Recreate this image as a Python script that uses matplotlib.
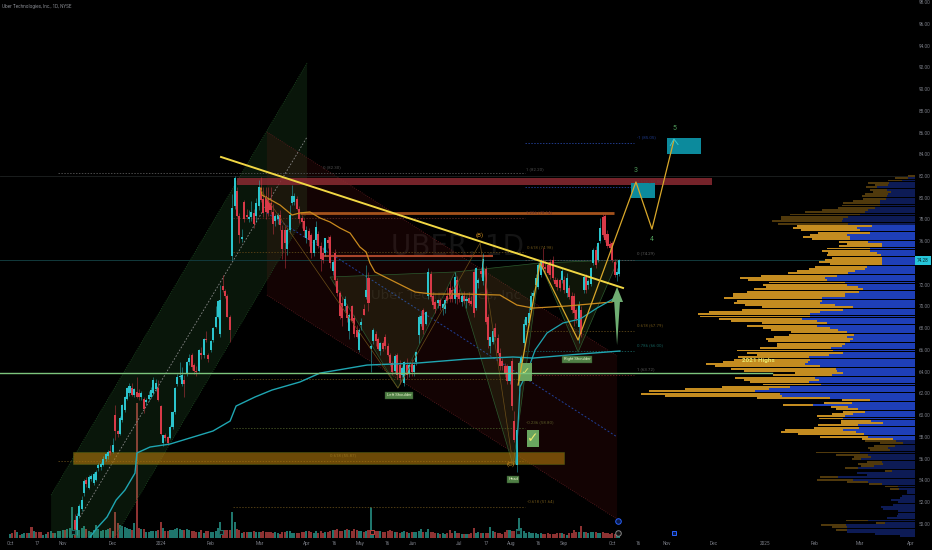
"""Uber daily chart, dark TradingView look, with drawings and volume profile."""

import matplotlib
matplotlib.use("Agg")
import matplotlib.pyplot as plt
import numpy as np
from matplotlib.patches import Polygon, Rectangle

# ── Candles (first candle is bar 27, earlier ones sit below the visible range) ──
FIRST_BAR = 27
OPEN = [
    50.4, 49.4, 50.7, 51.4, 52.8, 54.0, 53.3, 54.1, 53.8, 54.0,
    55.1, 55.2, 55.4, 56.0, 56.2, 56.7, 56.6, 60.0, 58.5, 58.3,
    59.6, 60.5, 61.5, 62.0, 62.5, 61.9, 62.1, 62.0, 61.7, 61.5,
    61.2, 61.5, 61.7, 62.0, 62.4, 62.5, 60.8, 57.4, 58.2, 58.0,
    57.9, 58.9, 60.3, 62.9, 63.5, 62.9, 63.2, 63.8, 64.9, 65.5,
    64.6, 64.1, 64.1, 65.7, 65.5, 67.0, 65.5, 66.0, 66.9, 68.1,
    69.0, 67.5, 71.9, 71.4, 71.0, 69.0, 74.6, 79.2, 80.6, 78.3,
    76.2, 79.6, 78.4, 78.0, 78.2, 78.6, 78.3, 79.2, 80.9, 79.9,
    80.2, 79.9, 79.5, 78.7, 77.9, 78.0, 78.4, 77.0, 77.0, 75.3,
    77.0, 79.5, 79.6, 79.9, 79.0, 78.1, 77.9, 76.3, 76.9, 76.6,
    74.9, 76.1, 76.7, 75.6, 74.9, 74.9, 76.1, 76.4, 73.3, 74.9,
    72.3, 71.2, 70.3, 70.0, 70.0, 67.7, 70.0, 68.9, 67.8, 66.0,
    68.3, 69.8, 70.9, 72.6, 66.1, 66.8, 67.5, 67.0, 65.9, 66.6,
    67.2, 66.4, 65.5, 64.8, 64.1, 65.5, 64.6, 63.7, 63.0, 64.6,
    63.9, 64.8, 64.0, 64.9, 67.4, 68.4, 69.7, 68.4, 71.0, 73.0,
    71.0, 70.4, 70.3, 70.6, 69.9, 69.8, 71.0, 71.7, 71.5, 70.7,
    72.4, 71.2, 70.4, 71.0, 70.5, 70.8, 70.5, 73.2, 69.9, 72.2,
    73.3, 72.3, 73.4, 69.0, 66.4, 66.7, 68.0, 67.1, 65.7, 65.0,
    64.5, 64.5, 63.1, 65.0, 59.5, 55.4, 63.1, 64.5, 66.6, 68.3,
    68.5, 69.7, 71.0, 72.0, 71.8, 72.9, 74.1, 73.6, 73.8, 74.1,
    74.3, 72.4, 72.4, 72.4, 72.4, 72.4, 71.2, 71.7, 71.0, 71.0,
    69.7, 68.1, 69.7, 71.5, 72.7, 72.0, 72.1, 74.0, 75.2, 74.3,
    76.0, 78.2, 78.3, 76.7, 75.7, 75.8, 74.1, 72.9, 73.0,
]
HIGH = [
    50.9, 51.0, 51.8, 52.6, 54.1, 54.3, 54.5, 54.6, 54.8, 55.0,
    55.6, 55.7, 56.2, 56.5, 56.8, 57.3, 57.9, 60.9, 58.6, 59.9,
    61.0, 61.8, 62.6, 63.0, 63.0, 62.5, 63.5, 62.4, 62.2, 61.7,
    61.6, 62.2, 62.6, 63.5, 63.3, 63.2, 60.9, 58.2, 58.4, 58.1,
    59.1, 60.4, 62.6, 63.8, 64.9, 64.4, 63.7, 65.0, 65.6, 65.7,
    64.8, 64.5, 66.1, 66.3, 67.1, 67.7, 65.7, 66.9, 68.1, 70.0,
    70.6, 72.0, 72.9, 71.6, 71.1, 69.2, 80.3, 82.0, 81.0, 78.6,
    77.1, 79.8, 79.0, 78.9, 79.7, 79.0, 80.0, 81.6, 81.9, 81.0,
    81.0, 81.0, 81.0, 79.4, 78.5, 78.6, 78.9, 77.5, 77.4, 77.2,
    79.3, 81.2, 80.4, 80.2, 79.2, 78.4, 78.1, 77.4, 77.2, 76.8,
    76.2, 77.9, 76.9, 75.9, 75.5, 76.3, 76.5, 76.6, 74.3, 75.3,
    72.6, 71.4, 70.9, 71.0, 70.2, 69.4, 70.1, 69.2, 68.3, 68.0,
    68.9, 70.2, 73.8, 73.2, 66.5, 68.0, 67.7, 67.2, 66.7, 66.8,
    67.5, 66.6, 65.7, 65.0, 65.6, 65.7, 65.1, 64.5, 65.0, 65.3,
    64.7, 65.2, 64.8, 65.9, 69.2, 69.5, 69.9, 69.6, 73.5, 73.3,
    71.3, 70.6, 70.7, 70.8, 70.3, 70.8, 71.8, 72.3, 71.9, 73.2,
    72.8, 71.6, 71.2, 71.4, 71.0, 71.3, 71.0, 73.4, 73.6, 72.6,
    73.6, 74.9, 73.7, 69.3, 67.2, 68.0, 68.5, 67.5, 66.2, 65.3,
    64.8, 64.7, 64.5, 65.3, 60.4, 58.6, 65.0, 65.5, 68.8, 69.0,
    70.0, 71.3, 71.5, 73.0, 74.0, 74.4, 75.4, 74.3, 74.1, 74.4,
    74.6, 72.7, 72.6, 72.6, 73.5, 72.8, 73.1, 72.0, 71.3, 71.2,
    69.9, 70.5, 70.0, 72.9, 73.0, 72.5, 73.6, 75.4, 75.6, 75.9,
    78.1, 78.5, 78.5, 77.0, 76.0, 76.0, 74.4, 73.5, 74.4,
]
LOW = [
    49.4, 49.0, 50.5, 51.2, 52.6, 53.4, 53.2, 53.9, 53.6, 53.9,
    54.9, 55.0, 55.3, 55.8, 56.0, 56.3, 56.5, 57.7, 58.0, 58.2,
    59.4, 60.3, 61.4, 61.8, 61.8, 61.7, 61.6, 61.4, 61.4, 60.2,
    60.9, 61.3, 61.6, 61.9, 62.2, 61.3, 58.2, 57.2, 57.6, 57.3,
    57.8, 58.7, 60.1, 62.7, 63.3, 62.7, 61.7, 63.6, 64.6, 64.2,
    63.8, 63.6, 64.0, 65.2, 65.3, 66.7, 64.9, 65.8, 66.7, 68.0,
    68.9, 67.2, 71.3, 70.8, 69.0, 66.7, 74.3, 79.0, 78.2, 75.8,
    75.9, 77.8, 78.0, 77.8, 77.9, 77.2, 77.8, 78.9, 79.6, 78.2,
    78.0, 78.3, 78.5, 76.7, 77.4, 77.6, 77.0, 74.4, 73.5, 74.7,
    76.8, 79.3, 79.3, 78.9, 77.7, 77.2, 76.4, 75.8, 75.6, 74.5,
    74.6, 75.8, 75.4, 73.3, 74.0, 74.6, 75.4, 73.5, 72.9, 72.0,
    71.0, 68.8, 68.2, 69.6, 68.6, 67.0, 68.6, 67.2, 67.1, 65.8,
    67.8, 69.2, 70.7, 69.6, 64.0, 66.5, 66.4, 66.0, 65.5, 65.9,
    66.1, 65.4, 64.5, 63.7, 63.9, 63.3, 62.9, 63.5, 62.7, 63.3,
    63.5, 63.6, 63.6, 64.6, 66.6, 68.2, 67.5, 68.3, 70.7, 70.5,
    69.8, 69.4, 69.9, 69.7, 69.2, 69.4, 70.3, 70.4, 70.4, 70.3,
    70.2, 70.4, 70.0, 70.3, 69.9, 70.1, 70.0, 69.0, 69.7, 71.7,
    72.7, 72.0, 68.4, 66.2, 65.7, 66.5, 66.9, 65.5, 64.2, 64.2,
    63.5, 62.9, 62.9, 60.5, 57.5, 54.8, 62.2, 63.9, 66.3, 68.2,
    68.3, 69.5, 70.8, 71.8, 71.6, 72.7, 73.4, 73.2, 73.0, 72.5,
    72.3, 71.9, 71.5, 71.4, 72.2, 71.2, 70.9, 70.7, 69.4, 68.2,
    68.5, 66.6, 67.2, 71.2, 71.2, 71.6, 71.9, 73.8, 73.5, 74.1,
    75.8, 76.4, 75.9, 75.4, 75.2, 74.1, 72.7, 72.3, 72.8,
]
CLOSE = [
    49.5, 50.7, 51.6, 52.2, 53.9, 53.7, 54.3, 54.4, 54.6, 54.8,
    55.4, 55.5, 56.0, 56.4, 56.6, 56.5, 57.3, 58.5, 58.3, 59.7,
    60.9, 61.7, 62.5, 62.7, 61.9, 62.4, 61.7, 61.7, 62.0, 60.6,
    61.4, 61.9, 62.3, 63.2, 63.0, 61.4, 58.3, 58.2, 57.9, 57.4,
    58.9, 60.3, 62.5, 63.5, 63.6, 63.7, 62.9, 64.9, 65.3, 64.4,
    64.1, 64.0, 66.0, 65.5, 67.0, 66.9, 65.2, 66.8, 68.0, 69.0,
    70.5, 70.6, 71.5, 71.0, 69.0, 67.8, 79.1, 81.8, 78.3, 76.6,
    76.4, 78.0, 78.2, 78.2, 78.7, 77.6, 79.5, 81.0, 79.8, 78.6,
    78.7, 78.6, 78.9, 77.6, 78.3, 78.4, 77.5, 75.3, 75.8, 77.0,
    78.4, 80.2, 80.2, 79.0, 78.0, 77.8, 76.9, 77.0, 76.1, 74.9,
    76.1, 77.3, 75.6, 74.4, 74.3, 76.3, 75.8, 74.0, 74.1, 72.4,
    71.2, 69.1, 68.9, 70.7, 68.9, 69.2, 68.7, 67.5, 67.2, 67.8,
    68.6, 69.2, 71.5, 70.3, 66.4, 67.8, 66.8, 66.1, 66.6, 66.1,
    66.4, 65.5, 64.8, 64.0, 65.4, 63.7, 63.4, 64.3, 64.9, 63.7,
    64.6, 64.0, 64.6, 65.8, 69.0, 69.1, 67.8, 69.5, 73.2, 70.9,
    70.1, 69.8, 70.6, 70.0, 70.2, 70.6, 70.5, 70.7, 70.7, 72.7,
    70.9, 70.7, 71.0, 70.5, 70.7, 70.3, 70.2, 69.4, 73.5, 72.4,
    73.0, 74.4, 68.6, 66.9, 67.2, 67.7, 67.2, 65.7, 64.5, 64.5,
    63.8, 63.1, 64.5, 60.8, 57.7, 58.6, 64.5, 65.3, 68.4, 69.0,
    69.4, 71.0, 71.2, 72.6, 73.8, 74.1, 73.6, 73.4, 73.1, 72.9,
    72.6, 72.1, 71.8, 71.7, 73.3, 71.5, 72.6, 70.9, 69.7, 69.4,
    68.8, 70.1, 67.5, 72.7, 71.5, 72.3, 73.5, 75.2, 73.8, 75.8,
    77.2, 76.6, 76.1, 75.6, 75.4, 74.3, 72.9, 73.2, 74.3,
]

# ── Volume, bar 0 onwards ──
VOLUME = [
    4, 5, 8, 6, 3, 4, 5, 5, 5, 11,
    7, 6, 6, 6, 3, 4, 6, 7, 5, 5,
    7, 7, 8, 8, 9, 10, 31, 15, 9, 8,
    10, 12, 9, 7, 6, 8, 13, 9, 7, 8,
    8, 9, 10, 7, 26, 15, 13, 12, 11, 10,
    9, 8, 15, 135, 10, 9, 9, 6, 6, 7,
    7, 7, 8, 16, 10, 7, 7, 8, 8, 9,
    10, 9, 8, 8, 9, 8, 7, 7, 6, 6,
    8, 5, 7, 7, 6, 6, 7, 10, 16, 8,
    8, 8, 8, 26, 16, 9, 8, 5, 6, 6,
    6, 6, 7, 6, 6, 6, 7, 6, 6, 6,
    5, 6, 5, 4, 6, 6, 7, 7, 5, 5,
    5, 5, 6, 6, 7, 7, 6, 5, 7, 5,
    7, 5, 6, 6, 7, 8, 8, 9, 7, 7,
    8, 9, 8, 7, 9, 8, 7, 7, 6, 7,
    8, 31, 8, 7, 7, 7, 6, 6, 7, 8,
    7, 6, 6, 5, 6, 7, 6, 5, 6, 6,
    6, 7, 9, 6, 6, 9, 6, 6, 5, 5,
    4, 5, 4, 5, 8, 5, 7, 5, 5, 4,
    4, 4, 4, 5, 10, 5, 6, 5, 5, 5,
    5, 11, 7, 6, 5, 5, 4, 6, 8, 8,
    7, 7, 9, 20, 10, 7, 5, 6, 5, 5,
    5, 4, 5, 4, 4, 5, 4, 4, 4, 5,
    5, 5, 4, 3, 5, 5, 8, 6, 6, 12,
    6, 6, 5, 6, 6, 6, 5, 5, 6, 5,
    5, 4, 5, 4, 5, 5,
]
# 1 = up day, for the bars before the first visible candle
EARLY_UP = [1, 0, 0, 1, 0, 1, 1, 0, 1, 0, 1, 0, 0, 0, 1, 1, 0, 1, 0, 1, 1, 1, 1, 0, 1, 1, 1]

# ── Volume profile, top row to bottom row: whole row and blue part of it ──
PROFILE_TOP = 82.0
PROFILE_BOTTOM = 48.85
PROFILE_TOTAL = [
    7, 20, 27, 47, 40, 49, 45, 42, 50, 53, 52, 62, 72, 73, 77, 93, 110, 125, 134, 134, 143, 137,
    118, 122, 114, 97, 105, 112, 103, 76, 68, 76, 88, 93, 87, 88, 83, 90, 96, 85, 100, 106, 118,
    127, 154, 175, 167, 146, 152, 149, 161, 168, 182, 182, 191, 178, 181, 170, 153, 173, 206,
    217, 215, 196, 184, 153, 168, 152, 144, 124, 126, 141, 149, 147, 138, 138, 155, 178, 168,
    158, 177, 181, 192, 209, 200, 184, 171, 120, 142, 180, 171, 165, 152, 193, 230, 266, 274,
    250, 158, 73, 91, 132, 84, 79, 72, 83, 98, 96, 74, 74, 97, 101, 130, 134, 117, 95,
    53, 50, 35, 41, 47, 45, 99, 79, 61, 63, 48, 57, 54, 70, 30, 58, 48, 95, 98, 68, 46, 30, 25,
    8, 8, 13, 15, 24, 17, 22, 34, 32, 17, 17, 18, 28, 69, 39, 94, 83, 79, 68, 40, 15,
]
PROFILE_BLUE = [
    0, 7, 13, 26, 27, 38, 28, 24, 27, 28, 29, 35, 35, 35, 40, 47, 50, 55, 67, 72, 73, 67,
    43, 58, 55, 45, 68, 65, 65, 47, 33, 33, 45, 45, 38, 34, 33, 33, 33, 33, 48, 50, 60,
    67, 78, 90, 88, 70, 68, 57, 52, 56, 70, 70, 93, 93, 95, 80, 62, 72, 95,
    105, 105, 113, 98, 88, 98, 85, 77, 68, 61, 68, 62, 65, 70, 73, 84, 82, 72,
    86, 106, 105, 107, 110, 95, 79, 78, 72, 83, 100, 96, 106, 94, 125, 146, 160, 135,
    133, 85, 45, 63, 102, 67, 57, 50, 62, 70, 72, 44, 32, 57, 56, 72, 59, 51, 47,
    22, 19, 12, 20, 27, 25, 55, 47, 44, 54, 33, 32, 41, 57, 23, 58, 48, 77, 62, 47, 33, 17, 16,
    8, 8, 13, 15, 24, 17, 22, 34, 32, 17, 17, 18, 28, 47, 30, 69, 68, 68, 68, 40, 15,
]
VALUE_AREA_HIGH = 77.6
VALUE_AREA_LOW = 57.75

# ── Moving lines, as (bar, price) ──
VWAP_BARS = [105.0, 105.4, 113.0, 118.0, 121.3, 125.5, 129.7, 133.9, 138.1, 142.3, 146.4, 149.0,
             150.6, 152.7, 161.1, 169.5, 176.6, 191.2, 205.0, 212.1, 218.8, 233.1, 251.9]
VWAP_PRICES = [80.9, 80.25, 79.33, 78.41, 78.6, 78.69, 78.14, 77.77, 77.21, 76.75, 75.47, 75.01,
               74.0, 73.17, 72.25, 71.33, 71.14, 71.14, 71.05, 70.13, 69.85, 70.04, 70.41]
LONG_MA_BARS = [33.5, 36.4, 40.6, 44.4, 48.1, 52.3, 53.1, 58.6, 66.9, 75.3, 84.9, 92.1, 94.6,
                102.5, 109.6, 121.3, 129.7, 149.4, 170.3, 191.2, 210.5, 218.8, 238.5, 255.2]
LONG_MA_PRICES = [48.79, 49.62, 50.63, 52.19, 53.11, 54.67, 56.52, 57.07, 57.34, 57.9, 58.54,
                  59.46, 60.84, 61.67, 62.31, 63.05, 63.87, 64.61, 64.79, 65.16, 65.35, 65.25,
                  65.62, 65.9]
ANCHORED_BARS = [211.7, 212.6, 213.4, 216.3, 219.7, 224.7, 231.4, 238.5, 245.6, 252.3]
ANCHORED_PRICES = [55.6, 59.28, 62.59, 63.87, 65.99, 67.56, 68.48, 68.84, 69.85, 70.68]

WAVE_BARS = [212.6, 221.8, 237.7, 261.9, 268.6, 277.8]
WAVE_PRICES = [62.77, 74.0, 66.91, 81.45, 77.12, 85.31]
ABC_BARS = [105.0, 162.3, 196.7, 210.5]
ABC_PRICES = [80.71, 62.49, 75.83, 55.41]

# ── Axis labels ──
PRICE_TICKS = list(range(50, 100, 2))
TIME_TICKS = [0, 11.3, 22.2, 43.1, 63.2, 84.1, 104.6, 124.3, 135.6, 146.4, 157.7, 168.6, 187.9,
              199.2, 209.6, 221, 231.8, 251.9, 262.8, 274.9, 294.6, 315.9, 336.8, 355.6, 377]
TIME_LABELS = ["Oct", "17", "Nov", "Dec", "2024", "Feb", "Mar", "Apr", "16", "May", "16", "Jun",
               "Jul", "17", "Aug", "16", "Sep", "Oct", "16", "Nov", "Dec", "2025", "Feb", "Mar",
               "Apr"]
LAST_PRICE = 74.28

BG = "#000000"
TEAL = "#2bc4cc"
RED = "#d83a48"
TICK_FG = "#7a7d86"
FONT = "Roboto"

fig = plt.figure(figsize=(9.32, 5.5), dpi=100, facecolor=BG)
rect = [0, 12 / 550, 915 / 932, 538 / 550]
XLIM = (-4.18, 378.66)
YLIM = (48.7, 98.19)

# volume sits underneath everything, on its own scale
vol_ax = fig.add_axes(rect, facecolor=BG)
vol_bars = np.arange(len(VOLUME))
vol_up = EARLY_UP + [int(c >= o) for o, c in zip(OPEN, CLOSE)]
vol_ax.bar(vol_bars, VOLUME, width=0.85,
           color=["#1f766d" if u else "#8e3232" for u in vol_up], linewidth=0)
vol_ax.set_xlim(*XLIM)
vol_ax.set_ylim(0, 538)
vol_ax.axis("off")

ax = fig.add_axes(rect)
ax.patch.set_alpha(0)
ax.set_xlim(*XLIM)
ax.set_ylim(*YLIM)
for s in ax.spines.values():
    s.set_visible(False)
ax.yaxis.tick_right()
# the 74 label is hidden by the last price tag
ax.set_yticks(PRICE_TICKS, ["" if p == 74 else f"{p:.2f}" for p in PRICE_TICKS])
ax.set_xticks(TIME_TICKS, TIME_LABELS)
ax.tick_params(axis="both", length=0, labelsize=3.4, labelcolor=TICK_FG, pad=2.5)
for lab in ax.get_xticklabels() + ax.get_yticklabels():
    lab.set_fontfamily(FONT)

# watermark
ax.text(187.4, 75.47, "UBER, 1D", color="#141414", fontsize=20, ha="center", va="center",
        family="Liberation Sans Narrow", zorder=0.5)
ax.text(182.4, 71.05, "Uber Technologies, Inc", color="#141414", fontsize=9.5, ha="center",
        va="center", family="Liberation Sans Narrow", zorder=0.5)

# channels
ax.add_patch(Polygon([(17.2, 52.65), (124.3, 92.4), (124.3, 78.69), (43.9, 48.79), (17.2, 48.79)],
                     facecolor="#4caf50", alpha=0.13, linewidth=0, zorder=1))
ax.plot([17.2, 124.3], [52.65, 92.4], color="#1d4a22", lw=0.6, ls=":", zorder=1.1)
ax.plot([43.9, 124.3], [48.79, 78.69], color="#1d4a22", lw=0.6, ls=":", zorder=1.1)
ax.plot([29.3, 124.3], [50.63, 85.59], color="#8a8a8a", lw=0.6, ls=(0, (2, 2)), zorder=1.1)

ax.add_patch(Polygon([(107.5, 86.05), (254, 65.44), (254, 50.44), (107.5, 71.05)],
                     facecolor="#b22222", alpha=0.11, linewidth=0, zorder=1))
ax.plot([107.5, 254], [86.05, 65.44], color="#5e1c20", lw=0.6, ls=":", zorder=1.1)
ax.plot([107.5, 254], [71.05, 50.44], color="#5e1c20", lw=0.6, ls=":", zorder=1.1)
ax.plot([107.5, 254], [78.6, 58.0], color="#1f3f9a", lw=0.7, ls=(0, (2, 2)), zorder=1.1)

# head and shoulders triangles
for tri in ([(133.9, 72.71), (162.3, 62.49), (186.2, 73.17)],
            [(186.2, 73.17), (210.5, 55.41), (221.8, 74.0)],
            [(221.8, 74.0), (237.7, 65.81), (254.4, 74.27)]):
    ax.add_patch(Polygon(tri, facecolor="#7fae4a", alpha=0.12, linewidth=0, zorder=1.2))
    ax.add_patch(Polygon(tri, fill=False, edgecolor="#2c5a2e", linewidth=0.5, zorder=1.3))

# horizontal levels and fib lines
ax.axhline(82.0, color="#1f2222", lw=0.6, zorder=1.3)
ax.axhline(LAST_PRICE, color="#123a3c", lw=0.7, zorder=1.3)
for price, start, stop, col in [
    (82.27, 20.1, 215.5, "#4a4a4a"), (78.14, 93.3, 215.5, "#4f2420"), (75.0, 93.3, 215.5, "#4f3c14"),
    (63.32, 93.3, 215.5, "#4f3c14"), (58.8, 93.3, 215.5, "#3d4a20"), (55.78, 20.1, 215.5, "#4f3c14"),
    (51.55, 93.3, 215.5, "#4f3c14"), (85.03, 215.5, 261.1, "#1f3a8a"), (80.99, 215.5, 261.1, "#1f3a8a"),
    (74.27, 215.5, 261.1, "#4a4a4a"), (67.74, 215.5, 261.1, "#4f3c14"), (65.9, 215.5, 261.1, "#14504f"),
    (63.69, 215.5, 261.1, "#5e1c20"),
]:
    ax.plot([start, stop], [price, price], color=col, lw=0.7, ls=(0, (1.5, 1.5)), zorder=1.4)

ax.add_patch(Rectangle((95, 81.17), 198.7, 0.64, facecolor="#8a2a32", edgecolor="none", alpha=0.85, zorder=1.5))
ax.add_patch(Rectangle((26.4, 55.5), 205.4, 1.11, facecolor="#b47a0c", edgecolor="#4d5f14", lw=0.6,
                       alpha=0.6, zorder=1.5))
ax.plot([121.3, 252.7], [78.6, 78.6], color="#a4521c", lw=2.0, solid_capstyle="butt", zorder=1.5)
ax.plot([129.7, 202.1], [74.64, 74.64], color="#a8452a", lw=1.5, solid_capstyle="butt", zorder=1.5)

# candles
bars = np.arange(FIRST_BAR, FIRST_BAR + len(OPEN))
opens, highs, lows, closes = map(np.array, (OPEN, HIGH, LOW, CLOSE))
colors = np.where(closes >= opens, TEAL, RED)
ax.vlines(bars, lows, highs, colors=colors, lw=0.55, alpha=0.6, zorder=2)
ax.bar(bars, np.abs(closes - opens), bottom=np.minimum(opens, closes), width=0.85,
       color=colors, linewidth=0, zorder=2.1)

# moving lines
ax.plot(VWAP_BARS, VWAP_PRICES, color="#c98a1e", lw=0.9, zorder=3)
ax.plot(LONG_MA_BARS, LONG_MA_PRICES, color="#1fa6b2", lw=1.0, zorder=3)
ax.plot(ANCHORED_BARS, ANCHORED_PRICES, color="#1fa6b2", lw=0.9, zorder=3)
ax.plot(ABC_BARS, ABC_PRICES, color="#6b4e18", lw=0.5, zorder=3)

# trend line
ax.plot([88.3, 256.5], [83.75, 71.7], color="#f1d744", lw=1.4, zorder=3.3)

# target boxes, projected waves, arrow
ax.add_patch(Rectangle((274.9, 84.02), 14.2, 1.48, facecolor="#0c8a9c", lw=0, zorder=3.4))
ax.add_patch(Rectangle((259.8, 79.97), 10.1, 1.38, facecolor="#0c8a9c", lw=0, zorder=3.4))
ax.plot(WAVE_BARS, WAVE_PRICES, color="#d9a82a", lw=0.9, zorder=3.5)
ax.plot([276.3, 277.8, 279.5], [84.8, 85.4, 84.9], color="#35c9d0", lw=0.7, zorder=3.6)
ax.add_patch(Polygon([(254, 71.79), (256.5, 70.41), (255.2, 70.41), (254, 66.45), (252.8, 70.41), (251.5, 70.41)],
                     facecolor="#6fae73", lw=0, zorder=3.6))

# check marks
ax.add_patch(Rectangle((212.6, 63.14), 5.8, 1.65, facecolor="#6aa55f", lw=0, zorder=3.45))
ax.add_patch(Rectangle((216.3, 57.07), 5.0, 1.56, facecolor="#6aa55f", lw=0, zorder=3.6))
ax.text(215.5, 63.95, "✓", color="#e8e86e", fontsize=8, ha="center", va="center", family="DejaVu Sans", zorder=3.7)
ax.text(218.8, 57.85, "✓", color="#e8e86e", fontsize=10, ha="center", va="center", family="DejaVu Sans", zorder=3.7)

# pattern tags
for bar, price, label in [(162.8, 61.85, "Left Shoulder"), (210.5, 54.12, "Head"), (237.2, 65.16, "Right Shoulder")]:
    ax.text(bar, price, label, color="#e4efc8", fontsize=3, ha="center", va="center", family=FONT, zorder=4,
            bbox=dict(boxstyle="square,pad=0.35", facecolor="#4f7f45", edgecolor="#2c4a28", linewidth=0.3))

# fib labels
for bar, price, label, col in [
    (134.7, 82.83, "0 (82.30)", "#4f4f4f"), (219.7, 82.64, "1 (82.20)", "#4f4f4f"),
    (221.3, 78.69, "1.236 (78.14)", "#5e2a28"), (221.8, 75.47, "0.618 (74.98)", "#6b5218"),
    (221.8, 59.37, "-0.236 (58.80)", "#5a5a28"), (221.8, 52.1, "-0.618 (51.64)", "#6b5218"),
    (139.3, 56.33, "0.618 (55.87)", "#94701c"), (266.5, 85.59, "-1 (85.05)", "#1f3a8a"),
    (267.8, 81.54, "2.618 (80.86)", "#6e3338"), (266.1, 74.92, "0 (74.29)", "#5a5a5a"),
    (267.8, 68.29, "0.618 (67.79)", "#6b5218"), (267.8, 66.45, "0.786 (66.00)", "#15605c"),
    (266.1, 64.24, "1 (63.72)", "#5a5a5a"),
]:
    ax.text(bar, price, label, color=col, fontsize=3.2, ha="center", va="center", family=FONT, zorder=4)

# wave numbers
ax.text(196.7, 76.57, "(B)", color="#c98a1e", fontsize=4.5, ha="center", va="center", family=FONT, zorder=4)
ax.text(209.6, 55.5, "(C)", color="#c98a1e", fontsize=4.5, ha="center", va="center", family=FONT, zorder=4)
for bar, price, label in [(261.9, 82.46, "3"), (268.6, 76.2, "4"), (277.8, 86.41, "5")]:
    ax.text(bar, price, label, color="#4f9a5a", fontsize=5, ha="center", va="center", family=FONT, zorder=4)

# chart markers on the volume strip
ax.plot([254.5], [50.3], marker="o", ms=4, mfc="#0a1a4a", mec="#2962ff", mew=0.7, zorder=4)
ax.plot([254.5], [49.2], marker="o", ms=4, mfc="#111111", mec="#888888", mew=0.7, zorder=4)
ax.plot([277.8], [49.2], marker="s", ms=3.4, mfc="#0a1a4a", mec="#2962ff", mew=0.7, zorder=4)
for bar, col in [(26.4, "#1d6e66"), (88.3, "#1d6e66"), (151.5, "#c0403c"), (212.6, "#1d6e66")]:
    ax.plot([bar], [49.25], marker="s", ms=3.2, mfc="#101010", mec=col, mew=0.7, zorder=4)

# volume profile, growing left from the price scale
prof_ax = fig.add_axes(rect)
prof_ax.patch.set_alpha(0)
rows = np.linspace(PROFILE_TOP, PROFILE_BOTTOM, len(PROFILE_TOTAL))
row_h = (PROFILE_TOP - PROFILE_BOTTOM) / (len(rows) - 1) * 0.85
inside = (rows <= VALUE_AREA_HIGH) & (rows >= VALUE_AREA_LOW)
prof_ax.barh(rows, PROFILE_TOTAL, height=row_h, color=np.where(inside, "#c48c20", "#50390c"), linewidth=0)
prof_ax.barh(rows, PROFILE_BLUE, height=row_h, color=np.where(inside, "#1e3fb8", "#0d1b55"), linewidth=0)
prof_ax.set_xlim(915, 0)
prof_ax.set_ylim(*YLIM)
prof_ax.axis("off")

# on top of the profile
label_ax = fig.add_axes(rect)
label_ax.patch.set_alpha(0)
label_ax.plot([XLIM[0], 318.8], [63.87, 63.87], color="#7cc47c", lw=1.0)
label_ax.set_xlim(*XLIM)
label_ax.set_ylim(*YLIM)
label_ax.axis("off")
label_ax.text(313, 65.07, "2021 Highs", color="#e8e86e", fontsize=4.6, ha="center", va="center",
              family=FONT, fontweight="bold")
label_ax.text(0.002, 0.987, "Uber Technologies, Inc., 1D, NYSE", transform=label_ax.transAxes,
              color="#8a8d94", fontsize=3.3, ha="left", va="center", family=FONT)

# last price tag
fig.text(922.5 / 932, 1 - 260.5 / 550, f"{LAST_PRICE:.2f}", color="#04282c", fontsize=3.4, ha="center", va="center",
         family=FONT, bbox=dict(boxstyle="square,pad=0.45", facecolor="#26c6da", linewidth=0))

fig.savefig("out.png", dpi=100, facecolor=BG)
